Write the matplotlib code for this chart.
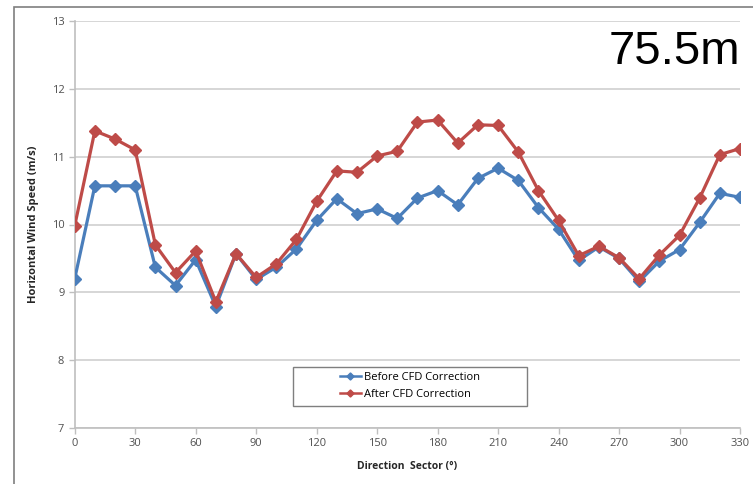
import matplotlib.pyplot as plt
from matplotlib.patches import Rectangle

sectors = list(range(0, 340, 10))
before = [9.20, 10.57, 10.57, 10.57, 9.37, 9.10, 9.48, 8.79, 9.57, 9.19,
          9.37, 9.64, 10.06, 10.38, 10.16, 10.23, 10.09, 10.39, 10.50, 10.29,
          10.68, 10.83, 10.65, 10.25, 9.93, 9.47, 9.67, 9.50, 9.16, 9.46,
          9.63, 10.03, 10.46, 10.40]
after = [9.98, 11.38, 11.26, 11.10, 9.70, 9.29, 9.61, 8.86, 9.57, 9.22,
         9.42, 9.78, 10.34, 10.79, 10.77, 11.01, 11.08, 11.51, 11.54, 11.20,
         11.47, 11.46, 11.07, 10.50, 10.06, 9.54, 9.68, 9.51, 9.20, 9.55,
         9.84, 10.39, 11.03, 11.12]
x_ticks = list(range(0, 331, 30))
y_ticks = [7, 8, 9, 10, 11, 12, 13]

plt.rcParams['font.family'] = ['Open Sans', 'DejaVu Sans']

W, H = 753, 484
fig = plt.figure(figsize=(W / 100, H / 100), dpi=100)
# outer chart frame (cut off at right and bottom)
fig.patches.append(Rectangle((14 / W, -0.1), 1.0, (H - 7) / H + 0.1,
                             transform=fig.transFigure, fill=False,
                             edgecolor='#7f7f7f', linewidth=1.2))

ax = fig.add_axes([74.7 / W, 56 / H, 665.3 / W, 407 / H])
ax.plot(sectors, before, color='#4a7ebb', linewidth=2.3, marker='D',
        markersize=6, label='Before CFD Correction', zorder=3)
ax.plot(sectors, after, color='#be4b48', linewidth=2.3, marker='D',
        markersize=6, label='After CFD Correction', zorder=4)

ax.set_xlim(0, 330)
ax.set_ylim(7, 13)
ax.set_xticks(x_ticks)
ax.set_yticks(y_ticks)
ax.grid(axis='y', color='#d0d0d0', linewidth=1.2)
ax.set_axisbelow(True)
for s in ['top', 'right']:
    ax.spines[s].set_visible(False)
for s in ['left', 'bottom']:
    ax.spines[s].set_color('#bfbfbf')
    ax.spines[s].set_linewidth(1.2)
ax.tick_params(colors='#bfbfbf', labelcolor='#505050', labelsize=8,
               length=4, width=1)
ax.set_xlabel('Direction  Sector (°)', fontsize=7.5, fontweight='bold',
              color='#262626', labelpad=8)
ax.set_ylabel('Horizontal Wind Speed (m/s)', fontsize=8, fontweight='bold',
              color='#262626', labelpad=9)

# legend box drawn separately so it can be wider than its entries
fig.patches.append(Rectangle((293 / W, 1 - 406 / H), 234 / W, 39 / H,
                             transform=fig.transFigure, fill=True,
                             facecolor='white', edgecolor='#7f7f7f',
                             linewidth=1.0, zorder=5))
leg = fig.legend(loc='center left', bbox_to_anchor=(334 / W, 1 - 386 / H),
                 fontsize=8, frameon=False, handlelength=1.9,
                 markerscale=0.6, borderpad=0.0, labelspacing=0.55,
                 handletextpad=0.3)
leg.set_zorder(6)
for h in leg.get_lines():
    h.set_linewidth(1.8)

fig.text(740 / W, 1 - 52 / H, '75.5m', fontsize=34, ha='right',
         va='center', color='black', family='Liberation Sans')

fig.savefig('out.png', dpi=100)
